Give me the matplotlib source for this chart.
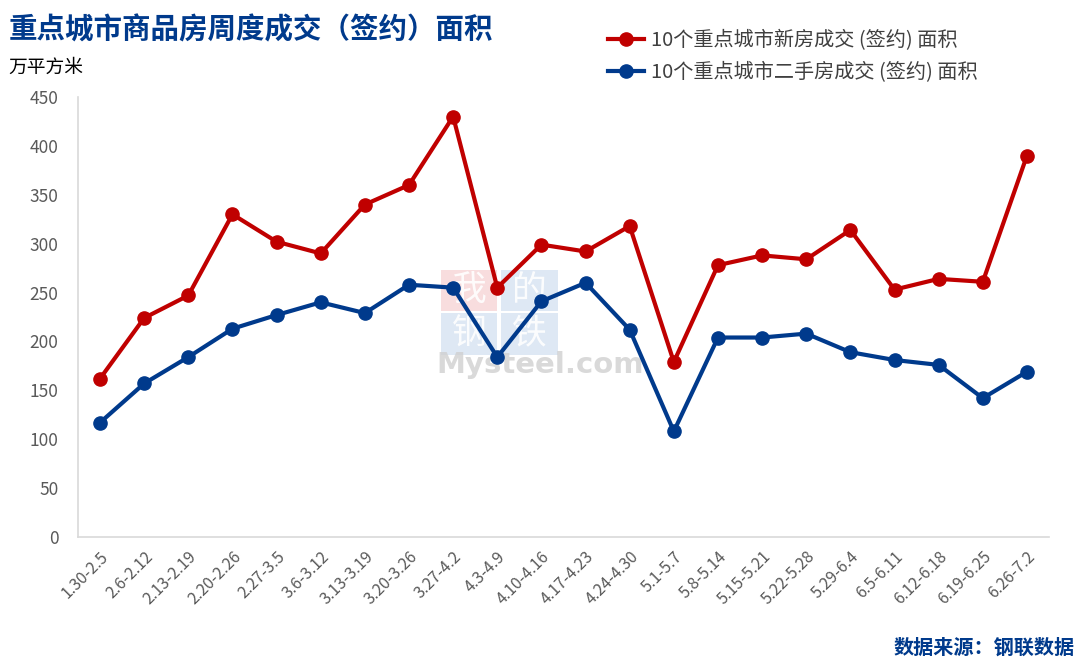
import matplotlib.pyplot as plt
from matplotlib.patches import Rectangle

plt.rcParams['font.family'] = ['Noto Sans CJK SC', 'DejaVu Sans']

weeks = ["1.30-2.5", "2.6-2.12", "2.13-2.19", "2.20-2.26", "2.27-3.5", "3.6-3.12",
         "3.13-3.19", "3.20-3.26", "3.27-4.2", "4.3-4.9", "4.10-4.16", "4.17-4.23",
         "4.24-4.30", "5.1-5.7", "5.8-5.14", "5.15-5.21", "5.22-5.28", "5.29-6.4",
         "6.5-6.11", "6.12-6.18", "6.19-6.25", "6.26-7.2"]
new_homes = [162, 224, 247, 330, 302, 290, 340, 360, 430, 255, 299, 292,
             318, 179, 278, 288, 284, 314, 253, 264, 261, 390]
second_hand = [117, 157, 184, 213, 227, 240, 229, 258, 255, 184, 241, 260,
               212, 108, 204, 204, 208, 189, 181, 176, 142, 169]

red = "#c00000"
blue = "#003a8c"
grey_txt = "#595959"

fig = plt.figure(figsize=(10.8, 6.64), dpi=100)
ax = fig.add_axes([0.0722, 0.1913, 0.8991, 0.6626])

x = range(len(weeks))
ax.plot(x, new_homes, color=red, lw=3, marker="o", ms=9.5,
        label="10个重点城市新房成交 (签约) 面积", zorder=3)
ax.plot(x, second_hand, color=blue, lw=3, marker="o", ms=9.5,
        label="10个重点城市二手房成交 (签约) 面积", zorder=3)

ax.set_xlim(-0.5, len(weeks) - 0.5)
ax.set_ylim(0, 450)
ax.set_yticks(range(0, 451, 50))
ax.set_xticks(list(x))
ax.set_xticklabels(weeks, rotation=45, ha="right", rotation_mode="anchor")
ax.tick_params(axis="both", length=0, colors=grey_txt, labelsize=12.5)
ax.tick_params(axis="x", labelsize=11.5, pad=8)
ax.tick_params(axis="y", pad=14)
for s in ["top", "right"]:
    ax.spines[s].set_visible(False)
for s in ["left", "bottom"]:
    ax.spines[s].set_color("#d9d9d9")
    ax.spines[s].set_linewidth(1.2)

# watermark
wm_boxes = [(0, 1, "我", "#f4c7c9"), (1, 1, "的", "#c9d9ee"),
            (0, 0, "钢", "#c9d9ee"), (1, 0, "铁", "#c9d9ee")]
for cx, cy, ch, col in wm_boxes:
    bx = 0.374 + cx * 0.062
    by = 0.414 + cy * 0.099
    ax.add_patch(Rectangle((bx, by), 0.058, 0.094, transform=ax.transAxes,
                           color=col, alpha=0.6, zorder=1, lw=0))
    ax.text(bx + 0.029, by + 0.047, ch, transform=ax.transAxes, ha="center",
            va="center", fontsize=25, color="white", alpha=0.9, zorder=1)
ax.text(0.476, 0.39, "Mysteel.com", transform=ax.transAxes, ha="center",
        va="center", fontsize=21, color="#d0d0d0", alpha=0.8,
        fontweight="bold", family="DejaVu Sans", zorder=1)

leg = fig.legend(loc="upper left", bbox_to_anchor=(0.563, 0.955), frameon=False,
                 fontsize=14.5, handlelength=1.8, handletextpad=0.35,
                 labelspacing=0.55, borderpad=0, borderaxespad=0)
for t in leg.get_texts():
    t.set_color("#404040")

fig.text(0.008, 0.955, "重点城市商品房周度成交（签约）面积", fontsize=20.5,
         fontweight="bold", color=blue, ha="left", va="center")
fig.text(0.008, 0.898, "万平方米", fontsize=13.5, color="black",
         ha="left", va="center")
fig.text(0.995, 0.025, "数据来源：钢联数据", fontsize=14.5, fontweight="bold",
         color=blue, ha="right", va="center")

fig.savefig("out.png", dpi=100)
